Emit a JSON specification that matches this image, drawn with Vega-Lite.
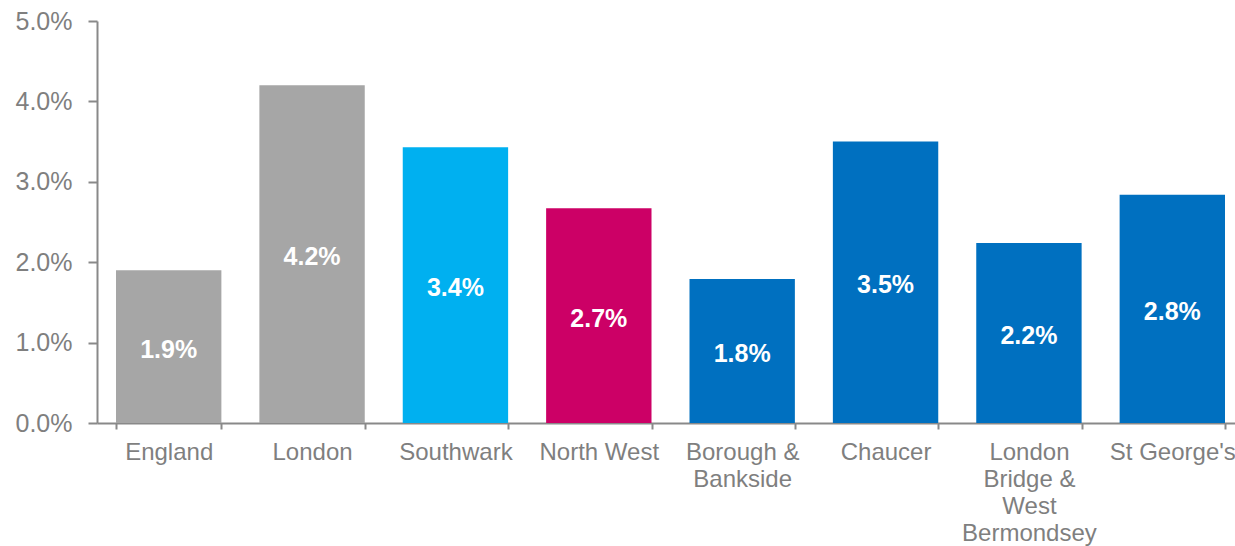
{
  "$schema": "https://vega.github.io/schema/vega-lite/v6.json",
  "width": 1147,
  "height": 402,
  "autosize": {"type": "none"},
  "padding": {"left": 97, "top": 21, "right": 0, "bottom": 123},
  "background": "white",
  "config": {
    "view": {"stroke": null},
    "font": "Liberation Sans"
  },
  "data": {
    "values": [
      {"area": "England", "rate": 0.019, "group": "g"},
      {"area": "London", "rate": 0.042, "group": "g"},
      {"area": "Southwark", "rate": 0.0343, "group": "s"},
      {"area": "North West", "rate": 0.0267, "group": "n"},
      {"area": "Borough & Bankside", "rate": 0.0179, "group": "b"},
      {"area": "Chaucer", "rate": 0.035, "group": "b"},
      {"area": "London Bridge & West Bermondsey", "rate": 0.0224, "group": "b"},
      {"area": "St George's", "rate": 0.0284, "group": "b"}
    ]
  },
  "encoding": {
    "x": {
      "field": "area",
      "type": "nominal",
      "sort": null,
      "scale": {"paddingInner": 0.265, "paddingOuter": 0.1325},
      "axis": {
        "title": null,
        "labelAngle": 0,
        "labelFontSize": 24,
        "labelColor": "#7f7f7f",
        "labelLineHeight": 27,
        "labelPadding": 11,
        "tickBand": "extent",
        "tickSize": 6,
        "tickWidth": 2,
        "tickColor": "#898989",
        "domainColor": "#898989",
        "domainWidth": 2,
        "labelLimit": 300,
        "labelExpr": "datum.value == 'Borough & Bankside' ? ['Borough &', 'Bankside'] : datum.value == 'London Bridge & West Bermondsey' ? ['London', 'Bridge &', 'West', 'Bermondsey'] : datum.value"
      }
    }
  },
  "layer": [
    {
      "mark": {"type": "bar"},
      "encoding": {
        "y": {
          "field": "rate",
          "type": "quantitative",
          "scale": {"domain": [0, 0.05], "nice": false},
          "axis": {
            "title": null,
            "format": ".1%",
            "values": [0, 0.01, 0.02, 0.03, 0.04, 0.05],
            "grid": false,
            "labelFontSize": 25,
            "labelColor": "#7f7f7f",
            "labelPadding": 16,
            "tickSize": 9,
            "tickWidth": 2,
            "tickColor": "#898989",
            "domainColor": "#898989",
            "domainWidth": 2
          }
        },
        "color": {
          "field": "group",
          "type": "nominal",
          "scale": {"domain": ["g", "s", "n", "b"], "range": ["#a6a6a6", "#00b0f0", "#cc0066", "#0070c0"]},
          "legend": null
        }
      }
    },
    {
      "transform": [{"calculate": "datum.rate / 2", "as": "mid"}],
      "mark": {"type": "text", "color": "white", "fontWeight": "bold", "fontSize": 25, "baseline": "middle", "dy": 3},
      "encoding": {
        "y": {"field": "mid", "type": "quantitative"},
        "text": {"field": "rate", "type": "quantitative", "format": ".1%"}
      }
    }
  ]
}
